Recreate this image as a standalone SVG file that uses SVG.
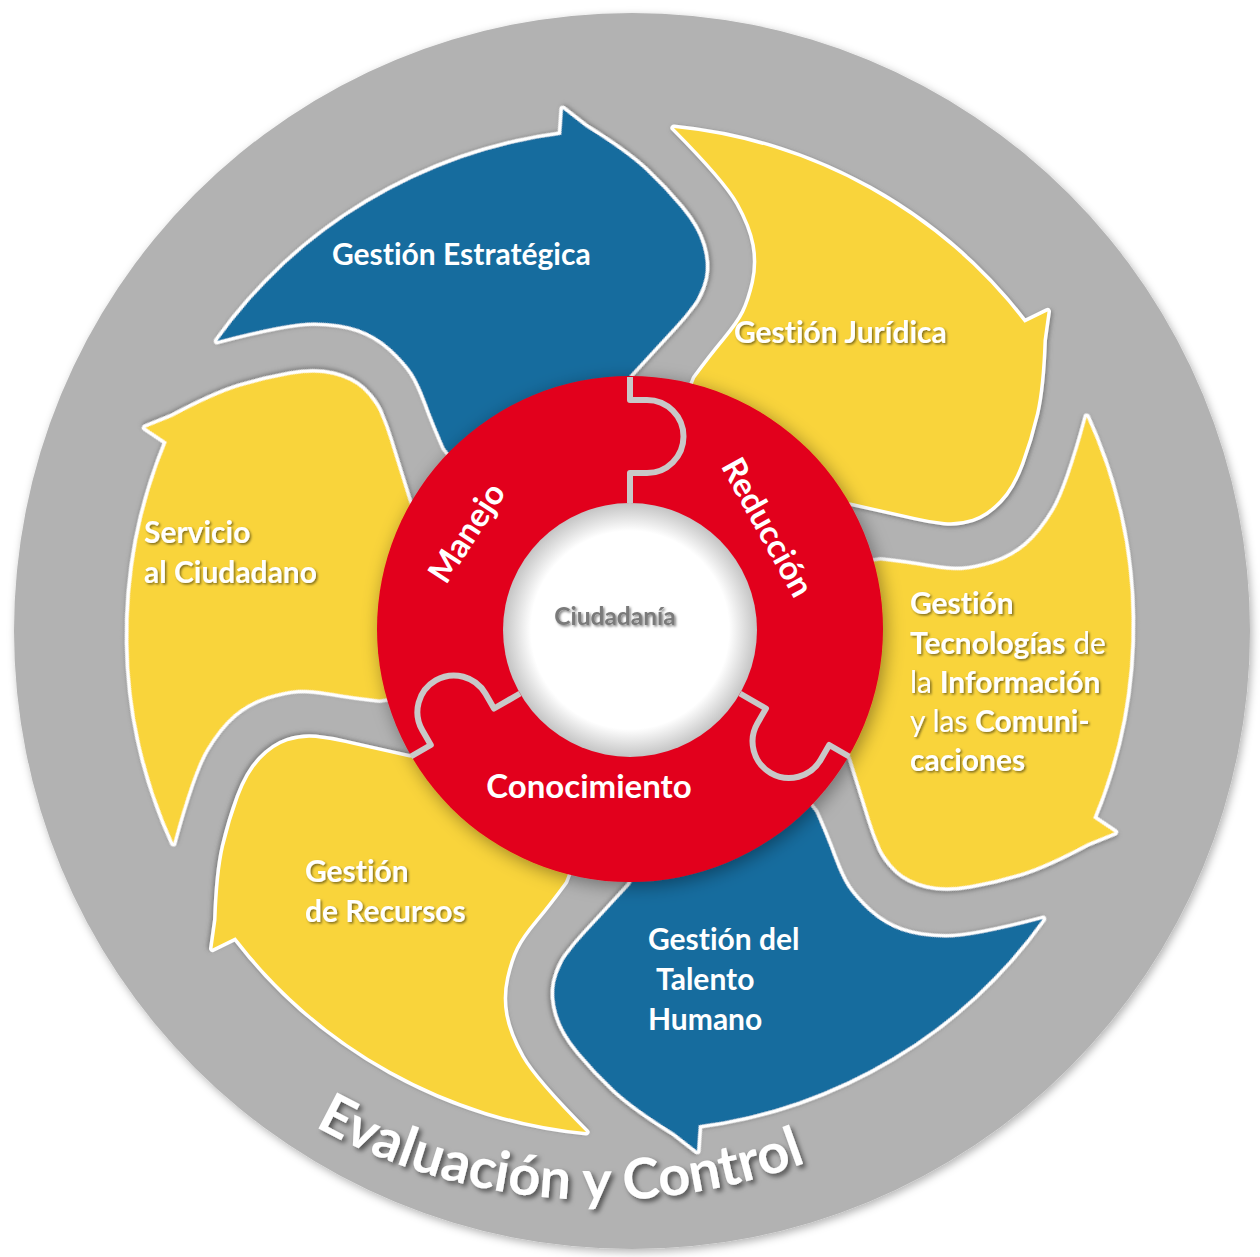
<svg xmlns="http://www.w3.org/2000/svg" width="1260" height="1257" viewBox="0 0 1260 1257">
<defs>
<style>
.blue{fill:#146c9e}
.yel{fill:#f9d43a}
.arrow{stroke:#ffffff;stroke-width:7;stroke-linejoin:round;paint-order:stroke;filter:url(#bevel)}
.lbl{font-family:Lato,"Open Sans","DejaVu Sans",sans-serif;font-weight:700;font-size:30px;fill:#ffffff;font-variant-ligatures:none}
.sh{filter:url(#tsh)}
.reg{font-weight:400}
.rtxt{font-family:Lato,"Open Sans","DejaVu Sans",sans-serif;font-weight:700;font-size:33px;fill:#ffffff;font-variant-ligatures:none}
.seam{fill:none;stroke:#c8c8c8;stroke-width:6;stroke-linejoin:round}
.eval{font-family:Lato,"Open Sans","DejaVu Sans",sans-serif;font-weight:700;font-size:56px;fill:#ffffff;filter:url(#esh);font-variant-ligatures:none}
</style>
<filter id="outer" x="-5%" y="-5%" width="110%" height="110%"><feDropShadow dx="2" dy="3" stdDeviation="4" flood-color="#000" flood-opacity="0.3"/></filter>
<filter id="bevel" x="-10%" y="-10%" width="120%" height="120%"><feDropShadow dx="1.5" dy="1.5" stdDeviation="2" flood-color="#555" flood-opacity="0.6"/></filter>
<filter id="ringsh" x="-15%" y="-15%" width="130%" height="130%"><feDropShadow dx="3" dy="4" stdDeviation="9" flood-color="#000" flood-opacity="0.38"/></filter>
<filter id="tsh" x="-10%" y="-30%" width="120%" height="160%"><feDropShadow dx="1.5" dy="1.5" stdDeviation="1.2" flood-color="#000" flood-opacity="0.5"/></filter>
<filter id="esh" x="-10%" y="-30%" width="120%" height="160%"><feDropShadow dx="3" dy="3" stdDeviation="2.5" flood-color="#000" flood-opacity="0.55"/></filter>
<radialGradient id="hole" cx="0.5" cy="0.5" r="0.5"><stop offset="0.78" stop-color="#ffffff"/><stop offset="1" stop-color="#c4c4c4"/></radialGradient>
<path id="arrowShape" d="M673.9 127.9A504 504 0 0 1 1024.5 322.7L1047.5 311.5L1043.5 339.9Q1041.9 387.4 1035.9 413.4Q1029.8 439.3 1021 463.2Q1012.2 487.1 999.4 500.6Q986.6 514.1 972.4 518.8Q958.1 523.4 944.4 522Q930.7 520.6 914.7 516.9Q898.7 513.2 874.8 507.9L850.8 502.5L803.9 503.6A215 215 0 0 0 678.4 420.5L695.1 378.3Q710.9 356.7 724.7 340.2Q738.5 323.6 744.1 312.4Q749.7 301.1 754 282.5Q758.2 263.8 754.8 244.8Q751.3 225.8 738.5 202.9Q725.6 180 673.9 127.9Z"/>
<path id="seamShape" d="M630 377V400H647A36.5 36.5 0 0 1 647 473H630V503"/>
<path id="evalPath" d="M221 1062A590 590 0 0 0 979 1062"/>
</defs>

<g id="evaluacion-control">
<circle cx="632" cy="631" r="618" fill="#b2b2b2" filter="url(#outer)"/>
<text class="eval"><textPath href="#evalPath" startOffset="368" text-anchor="middle">Evaluación y Control</textPath></text>
</g>

<g id="gestion-estrategica">
<use href="#arrowShape" class="arrow blue" transform="rotate(-60 630 630)"/>
<text class="lbl" x="332" y="265">Gestión Estratégica</text>
</g>

<g id="gestion-juridica">
<use href="#arrowShape" class="arrow yel"/>
<text class="lbl sh" x="734" y="343">Gestión Jurídica</text>
</g>

<g id="gestion-tic">
<use href="#arrowShape" class="arrow yel" transform="rotate(60 630 630)"/>
<text class="lbl sh" x="910" y="614">Gestión</text>
<text class="lbl sh" x="910" y="654">Tecnologías<tspan class="reg"> de</tspan></text>
<text class="lbl sh" x="910" y="693"><tspan class="reg">la </tspan>Información</text>
<text class="lbl sh" x="910" y="732"><tspan class="reg">y las </tspan>Comuni-</text>
<text class="lbl sh" x="910" y="771">caciones</text>
</g>

<g id="gestion-talento-humano">
<use href="#arrowShape" class="arrow blue" transform="rotate(120 630 630)"/>
<text class="lbl" x="648" y="950">Gestión del</text>
<text class="lbl" x="656" y="990">Talento</text>
<text class="lbl" x="648" y="1030">Humano</text>
</g>

<g id="gestion-recursos">
<use href="#arrowShape" class="arrow yel" transform="rotate(180 630 630)"/>
<text class="lbl sh" x="305" y="882">Gestión</text>
<text class="lbl sh" x="305" y="922">de Recursos</text>
</g>

<g id="servicio-ciudadano">
<use href="#arrowShape" class="arrow yel" transform="rotate(240 630 630)"/>
<text class="lbl sh" x="144" y="543">Servicio</text>
<text class="lbl sh" x="144" y="583">al Ciudadano</text>
</g>

<g id="ciudadania">
<circle cx="630" cy="629" r="253" fill="#e2001a" filter="url(#ringsh)"/>
<circle cx="630" cy="630" r="127" fill="url(#hole)"/>
<use href="#seamShape" class="seam"/>
<use href="#seamShape" class="seam" transform="rotate(120 630 630)"/>
<use href="#seamShape" class="seam" transform="rotate(240 630 630)"/>
<text class="rtxt" x="589" y="798" text-anchor="middle" font-size="36">Conocimiento</text>
<text class="rtxt" x="467" y="544" text-anchor="middle" transform="rotate(-57 467 533)">Manejo</text>
<text class="rtxt" x="768" y="539" text-anchor="middle" transform="rotate(61 768 527)">Reducción</text>
<text x="615" y="625" text-anchor="middle" font-family="Lato,'Open Sans','DejaVu Sans',sans-serif" font-weight="700" font-size="24.5" fill="#7a7a7a" filter="url(#tsh)">Ciudadanía</text>
</g>

<g id="connectors"></g>
</svg>
